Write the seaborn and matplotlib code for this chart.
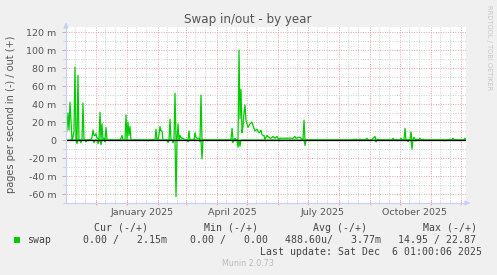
import numpy as np
import pandas as pd
import matplotlib
matplotlib.use("Agg")
import matplotlib.pyplot as plt
import matplotlib.transforms as mtransforms
from matplotlib.patches import Rectangle
import seaborn as sns

# ---------------- data -------------------------------------------------------------
# one sample per day, day 0 = 2024-11-01 01:00 ; values in milli pages/s
# days not listed read as 0 on the chart
n_days = 401
out_points = [
    (0, 5), (1, 12), (2, 30), (3, 11), (4, 42), (5, 20), (7, 3), (8, 10), (9, 81),
    (12, 72), (17, 41), (25, 1), (26, 3), (27, 11), (28, 5), (29, 5), (30, 7), (31, 2),
    (32, 2), (34, 31), (36, 18), (38, 2), (40, 14), (55, 2), (56, 5), (60, 28), (62, 20),
    (63, 5), (64, 15), (90, 12), (93, 6), (94, 15), (95, 10), (96, 10), (104, 23),
    (109, 52), (112, 18), (114, 5), (115, 3), (116, 2), (117, 2), (118, 1), (123, 10),
    (129, 8), (130, 3), (131, 2), (132, 2), (133, 2), (135, 50), (166, 13), (169, 2),
    (173, 100), (174, 24), (175, 56), (176, 8), (177, 15), (178, 30), (179, 39), (180, 22),
    (181, 18), (182, 14), (183, 16), (184, 18), (185, 19), (186, 20), (187, 16), (188, 13),
    (189, 10), (190, 11), (191, 12), (192, 10), (193, 8), (194, 9), (195, 11), (196, 6),
    (197, 5), (198, 5), (200, 3), (201, 5), (202, 4), (203, 3), (204, 2), (205, 2),
    (206, 3), (207, 4), (208, 3), (209, 2), (210, 3), (211, 4), (212, 2), (214, 2),
    (215, 2), (216, 2), (217, 2), (218, 2), (219, 2), (220, 2), (221, 2), (222, 2),
    (223, 2), (224, 2), (225, 2), (226, 2), (227, 2), (228, 3), (229, 4), (230, 2),
    (231, 2), (232, 3), (233, 3), (234, 3), (235, 2), (236, 1), (238, 22), (288, 1),
    (290, 1), (292, 0.5), (294, 1), (300, 1), (301, 2), (307, 2), (308, 3), (309, 4),
    (312, 1), (327, 2), (335, 2), (339, 13), (345, 9), (348, 3), (349, 1), (351, 1),
    (354, 2), (357, 1), (384, 1), (387, 2), (399, 2), (400, 1),
]
in_points = [
    (11, 4), (15, 3), (20, 2), (28, 3), (32, 4), (35, 5), (39, 2), (82, 1), (102, 3),
    (107, 3), (110, 63), (122, 2), (134, 2), (136, 21), (167, 3), (172, 8), (174, 7),
    (200, 1), (213, 1), (239, 6), (310, 2), (342, 2), (346, 10), (349, 1), (379, 1),
]

quarter_labels = ["January 2025", "April 2025", "July 2025", "October 2025"]
quarter_label_dates = ["2025-01-16", "2025-04-16", "2025-07-16", "2025-10-16"]
y_major = [-60, -40, -20, 0, 20, 40, 60, 80, 100, 120]

legend_headers = ["Cur (-/+)", "Min (-/+)", "Avg (-/+)", "Max (-/+)"]
legend_values = ["0.00 /   2.15m", "0.00 /   0.00", "488.60u/   3.77m", "14.95 / 22.87"]
series_name = "swap"
title = "Swap in/out - by year"
ylabel = "pages per second in (-) / out (+)"
last_update = "Last update: Sat Dec  6 01:00:06 2025"
footer = "Munin 2.0.73"
side_text = "RRDTOOL / TOBI OETIKER"

# ---------------- build daily table ------------------------------------------------
days = np.arange(n_days)
swap_out = np.zeros(n_days)
swap_in = np.zeros(n_days)
for d, v in out_points:
    swap_out[d] = v
for d, v in in_points:
    swap_in[d] = v
df = pd.DataFrame({"day": days, "out": swap_out, "in": -swap_in})

# ---------------- figure ------------------------------------------------------------
W, H = 497, 275
BG = "#F0F0F0"
TXT = "#555555"
GREEN = "#00CC00"
AXIS = "#C8D0F8"
MAJ = "#E9A3A3"
MIN = "#CFCFCF"

fig = plt.figure(figsize=(W / 100, H / 100), dpi=100, facecolor=BG)
L, R, T, B = 66, 466, 27, 203
ax = fig.add_axes([L / W, 1 - B / H, (R - L) / W, (B - T) / H])
ax.set_facecolor("white")

start = pd.Timestamp("2024-11-01 01:00")


def dnum(ts):
    return (pd.Timestamp(ts) - start) / pd.Timedelta(days=1)


sns.lineplot(data=df, x="day", y="in", color=GREEN, lw=0.9, ax=ax,
             estimator=None, sort=False, zorder=3)
sns.lineplot(data=df, x="day", y="out", color=GREEN, lw=0.9, ax=ax,
             estimator=None, sort=False, zorder=3)
ax.axhline(0, color="black", lw=0.9, zorder=4)

ax.set_xlim(0, 400)
ax.set_ylim(-70, 125.6)

# x grid: months (major), 10th/20th (minor)
month_starts = pd.date_range("2024-11-01", "2025-12-01", freq="MS")
x_major = [dnum(m) for m in month_starts if 0 < dnum(m) < 400]
x_minor = []
for m in month_starts:
    for off in (9, 19):
        d = dnum(m + pd.Timedelta(days=off))
        if 0 < d < 400:
            x_minor.append(d)
ax.set_xticks(x_major)
ax.set_xticks(x_minor, minor=True)
ax.set_xticklabels([])

ax.set_yticks(y_major)
ax.set_yticks(list(range(-70, 126, 10)), minor=True)
ax.set_yticklabels([f"{v} m" if v != 0 else "0" for v in y_major],
                   fontsize=6.8, color=TXT)

ax.grid(which="major", color=MAJ, lw=0.7, ls=(0, (1, 1.5)), zorder=1)
ax.grid(which="minor", color=MIN, lw=0.7, ls=(0, (1, 1.5)), zorder=0.5)
ax.set_axisbelow(True)

ax.tick_params(axis="x", which="major", length=3, direction="inout", color=MAJ, width=0.7)
ax.tick_params(axis="x", which="minor", length=2, direction="inout", color=MIN, width=0.7)
ax.tick_params(axis="y", which="major", length=3, direction="out", color=MAJ, width=0.7, pad=4)
ax.tick_params(axis="y", which="minor", length=2, direction="out", color=MIN, width=0.7)

for s in ("top", "right"):
    ax.spines[s].set_visible(False)
for s in ("left", "bottom"):
    ax.spines[s].set_color(AXIS)
    ax.spines[s].set_linewidth(0.9)
    ax.spines[s].set_zorder(5)

ax.set_xlabel("")
ax.set_ylabel("")

# month labels at mid-month
trans = mtransforms.blended_transform_factory(ax.transData, fig.transFigure)
for lab, d in zip(quarter_labels, quarter_label_dates):
    ax.text(dnum(d), 1 - 212.5 / H, lab, transform=trans, ha="center", va="center",
            fontsize=6.8, color=TXT, clip_on=False)

# axis arrows
ax.annotate("", xy=(L / W, 1 - 20 / H), xytext=(L / W, 1 - 28 / H),
            xycoords="figure fraction", textcoords="figure fraction",
            arrowprops=dict(arrowstyle="-|>", color=AXIS, lw=0.9, mutation_scale=7))
ax.annotate("", xy=(473 / W, 1 - B / H), xytext=(465 / W, 1 - B / H),
            xycoords="figure fraction", textcoords="figure fraction",
            arrowprops=dict(arrowstyle="-|>", color=AXIS, lw=0.9, mutation_scale=7))

# title, y label, side text
fig.text(248 / W, 1 - 19.5 / H, title, ha="center", va="center", fontsize=8.6, color=TXT)
fig.text(11.5 / W, 1 - 114 / H, ylabel, ha="center", va="center", rotation=90,
         fontsize=7.0, color=TXT)
fig.text(489 / W, 1 - 5 / H, side_text, ha="center", va="top", rotation=270,
         fontsize=4.8, color="#C8C8C8")

# legend block
MONO = "DejaVu Sans Mono"
LEG = "#444444"
for txt, x in zip(legend_headers, [94.3, 204, 313.3, 422.7]):
    fig.text(x / W, 1 - 228 / H, txt, ha="left", va="center", family=MONO,
             fontsize=7.1, color=LEG)
fig.patches.append(Rectangle((14 / W, 1 - 243 / H), 6 / W, 6 / H, transform=fig.transFigure,
                             facecolor=GREEN, edgecolor="none"))
fig.text(26.7 / W, 1 - 240 / H, series_name, ha="left", va="center", family=MONO,
         fontsize=7.1, color=LEG)
for txt, x in zip(legend_values, [83.3, 190, 285, 398.3]):
    fig.text(x / W, 1 - 240 / H, txt, ha="left", va="center", family=MONO,
             fontsize=7.1, color=LEG)
fig.text(482 / W, 1 - 252 / H, last_update, ha="right", va="center", family=MONO,
         fontsize=7.1, color=LEG)
fig.text(248 / W, 1 - 264 / H, footer, ha="center", va="center", fontsize=5.8,
         color="#BBBBBB")

fig.savefig("out.png", dpi=100, facecolor=BG)
